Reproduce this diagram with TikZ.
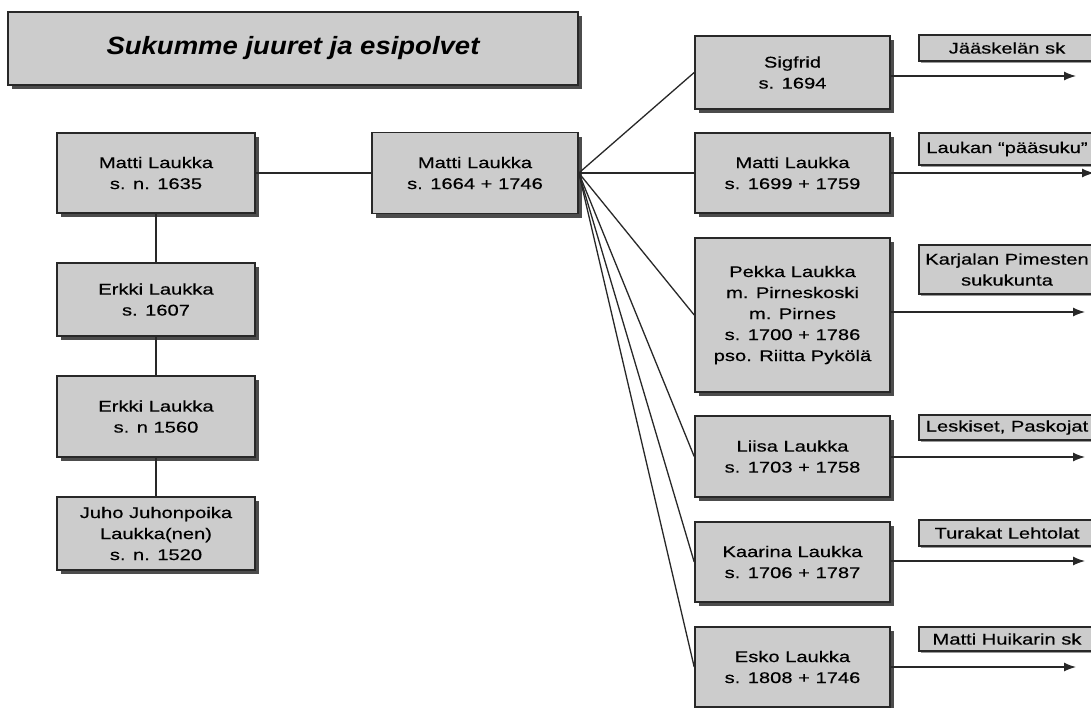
\documentclass[tikz,border=0pt]{standalone}
\usepackage{fontspec}
\setmainfont{Liberation Sans}[FakeStretch=1.3, FakeBold=0.4]
\newfontfamily\titlefont{Liberation Sans}[FakeStretch=1.1]
\usetikzlibrary{arrows.meta, shadows}
\definecolor{boxgray}{RGB}{204,204,204}
\definecolor{edgegray}{RGB}{40,40,40}

\begin{document}
\begin{tikzpicture}[x=1pt, y=-1pt]
        \tikzstyle{person} = [rectangle, fill=boxgray, draw=edgegray, line width=1.6pt, inner sep=0pt, align=center, font=\fontsize{15.5}{21}\selectfont, drop shadow={shadow xshift=4pt, shadow yshift=-4pt, fill=black!70, opacity=1}]
        \tikzstyle{tag} = [rectangle, fill=boxgray, draw=edgegray, line width=1.2pt, inner sep=0pt, align=center, minimum width=176pt, font=\fontsize{15.5}{21}\selectfont, drop shadow={shadow xshift=2pt, shadow yshift=-2pt, fill=black!40, opacity=1}]
        \tikzstyle{line} = [draw=edgegray, line width=1.3pt]
        \tikzstyle{arrow} = [draw=edgegray, line width=1.3pt, -{Latex[length=12pt,width=9pt]}]
        \clip (0,0) rectangle (1091,707);
        \fill[white] (0,0) rectangle (1091,707);
		\node [person, minimum width=570pt, minimum height=73pt, font=\titlefont\fontsize{25}{30}\selectfont\bfseries\itshape] (0) at (293, 48.5) {Sukumme juuret ja esipolvet};
		\node [person, minimum width=198pt, minimum height=80pt] (1) at (156, 173) {Matti Laukka \\ s. n. 1635};
		\node [person, minimum width=198pt, minimum height=73pt] (2) at (156, 299.5) {Erkki Laukka \\ s. 1607};
		\node [person, minimum width=198pt, minimum height=81pt] (3) at (156, 416.5) {Erkki Laukka \\ s. n 1560};
		\node [person, minimum width=198pt, minimum height=73pt] (4) at (156, 533.5) {Juho Juhonpoika \\ Laukka(nen) \\ s. n. 1520};
		\node [person, minimum width=206pt, minimum height=81pt] (5) at (475, 173) {Matti Laukka \\ s. 1664 + 1746};
		\node [person, minimum width=195pt, minimum height=73pt] (6) at (792.5, 72.5) {Sigfrid \\ s. 1694};
		\node [person, minimum width=195pt, minimum height=80pt] (7) at (792.5, 173) {Matti Laukka \\ s. 1699 + 1759};
		\node [person, minimum width=195pt, minimum height=154pt] (8) at (792.5, 315) {Pekka Laukka \\ m. Pirneskoski \\ m. Pirnes \\ s. 1700 + 1786 \\ pso. Riitta Pyk\"ol\"a};
		\node [person, minimum width=195pt, minimum height=81pt] (9) at (792.5, 456.5) {Liisa Laukka \\ s. 1703 + 1758};
		\node [person, minimum width=195pt, minimum height=80pt] (10) at (792.5, 562) {Kaarina Laukka \\ s. 1706 + 1787};
		\node [person, minimum width=195pt, minimum height=80pt] (11) at (792.5, 667) {Esko Laukka \\ s. 1808 + 1746};
		\node [tag, minimum height=26pt] (12) at (1007, 48) {Jääskelän sk};
		\node [tag, minimum height=32pt] (13) at (1007, 149) {Laukan “pääsuku”};
		\node [tag, minimum height=49pt] (14) at (1007, 269.5) {Karjalan Pimesten \\ sukukunta};
		\node [tag, minimum height=25pt] (15) at (1007, 427.5) {Leskiset, Paskojat};
		\node [tag, minimum height=26pt] (16) at (1007, 533) {Turakat Lehtolat};
		\node [tag, minimum height=24pt] (17) at (1007, 639) {Matti Huikarin sk};
		\coordinate (e6) at (1076, 76);
		\coordinate (e7) at (1094, 173);
		\coordinate (e8) at (1085, 312);
		\coordinate (e9) at (1085, 457);
		\coordinate (e10) at (1085, 561);
		\coordinate (e11) at (1076, 667);
		\draw[line] (1) to (2);
		\draw[line] (2) to (3);
		\draw[line] (3) to (4);
		\draw[line] (1) to (5);
		\foreach \n in {6,...,11}
			\draw[line] (5.east) to (\n.west);
		\foreach \n in {6,...,11}
			\draw[arrow] (\n.east |- e\n) to (e\n);
    \end{tikzpicture}
\end{document}
